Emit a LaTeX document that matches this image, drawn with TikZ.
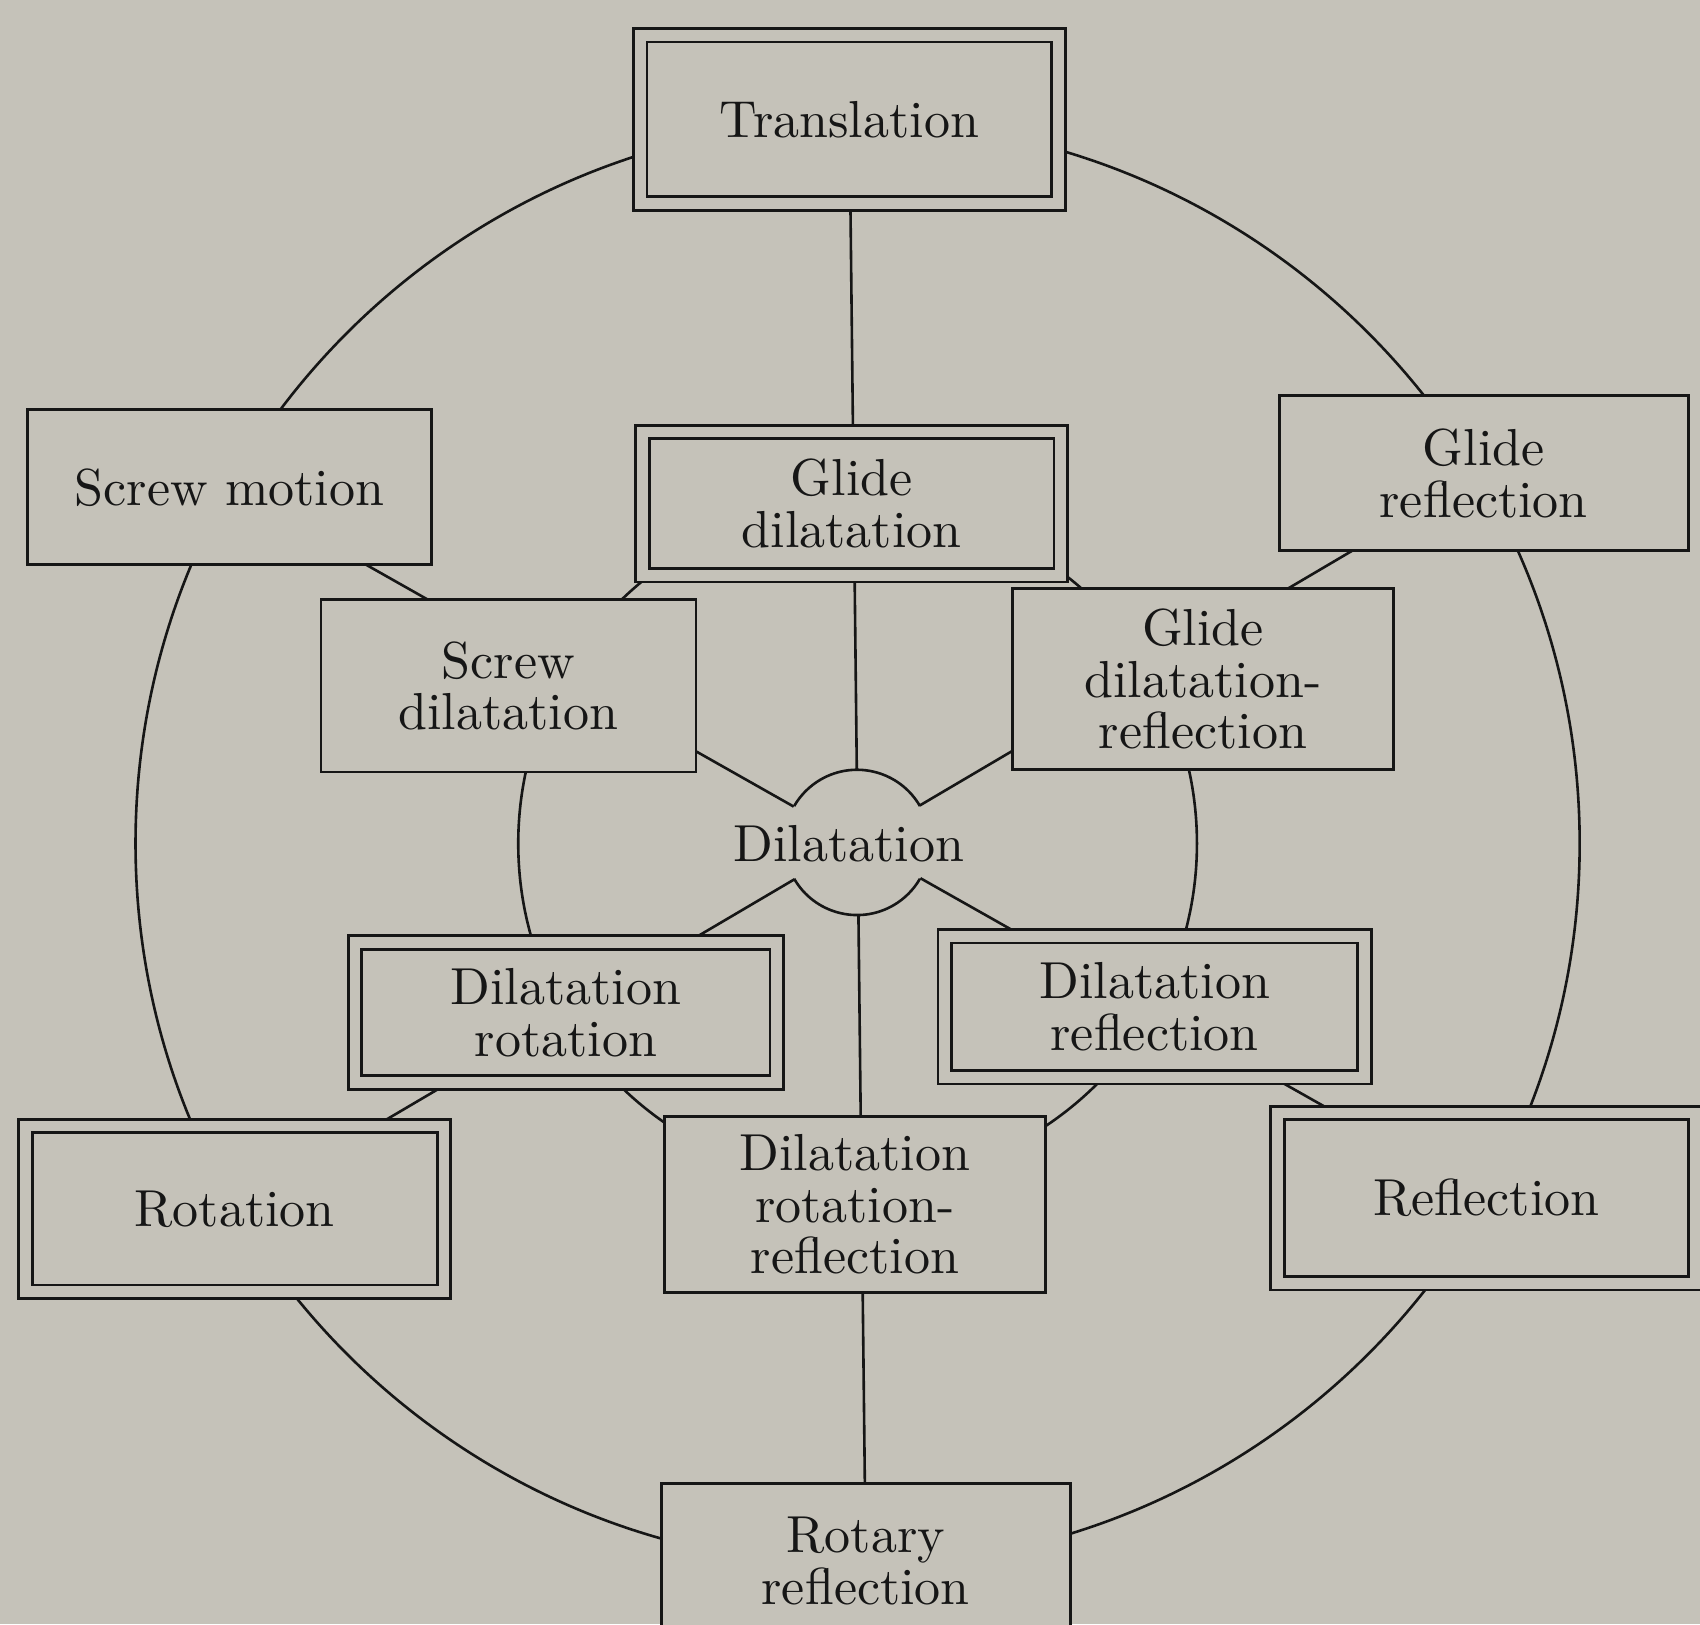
\documentclass[tikz,border=0pt]{standalone}
\usepackage{fontspec}
\setmainfont{lmroman10-regular}[Extension=.otf]
\usetikzlibrary{backgrounds}
\definecolor{paper}{RGB}{197,194,185}
\definecolor{ink}{RGB}{22,22,22}
\begin{document}
\begin{tikzpicture}[x=0.5pt,y=-0.5pt,
  lbl/.style={font=\fontsize{24}{23.75}\selectfont, text=ink, align=center, inner sep=0pt, outer sep=0pt},
  box/.style={lbl, rectangle, draw=ink, line width=1.3pt, fill=paper},
  dbox/.style={box, double=paper, double distance=5pt},
  conn/.style={draw=ink, line width=1.2pt},
]
\useasboundingbox (0,0) rectangle (1568,1498);
\coordinate (c0) at (790.5,777);
\coordinate (cc) at (791,778);

% central small circle with Dilatation
\node[circle, fill=paper, minimum size=67pt, inner sep=0pt, outer sep=0pt] (ring) at (c0) {};
\draw[conn] (ring.30) arc[start angle=30, end angle=150, radius=33.5pt];
\draw[conn] (ring.210) arc[start angle=210, end angle=330, radius=33.5pt];
\node[lbl] (D) at (783,778) {Dilatation};

% boxes
\node[dbox, minimum width=193pt, minimum height=77.5pt] (T) at (783.5,110) {Translation};
\node[dbox, minimum width=193pt, minimum height=66pt] (GD) at (785.5,464.5) {Glide\\dilatation};
\node[dbox, minimum width=194.5pt, minimum height=64.5pt] (DRot) at (522,934) {Dilatation\\rotation};
\node[dbox, minimum width=193.5pt, minimum height=65pt] (DRef) at (1065,928.5) {Dilatation\\reflection};
\node[dbox, minimum width=193pt, minimum height=76.5pt] (Rot) at (216.5,1115) {Rotation};
\node[dbox, minimum width=192.5pt, minimum height=78.5pt] (Ref) at (1371,1105) {Reflection};
\node[box, minimum width=186.5pt, minimum height=71.5pt] (SM) at (211.5,449.5) {Screw motion};
\node[box, minimum width=188.5pt, minimum height=71.5pt] (GR) at (1368.5,436.5) {Glide\\reflection};
\node[box, minimum width=173pt, minimum height=79.5pt] (SD) at (469,632.5) {Screw\\dilatation};
\node[box, minimum width=175.5pt, minimum height=83.5pt] (GDR) at (1109.5,626.5) {Glide\\dilatation-\\reflection};
\node[box, minimum width=175.5pt, minimum height=81pt] (DRR) at (788.5,1111) {Dilatation\\rotation-\\reflection};
\node[box, minimum width=188.5pt, minimum height=72pt] (RR) at (798.5,1440) {Rotary\\reflection};

\begin{scope}[on background layer]
  \fill[paper] (0,0) rectangle (1568,1498);
  \draw[conn] (cc) circle[radius=333pt];
  \draw[conn] (cc) circle[radius=156.5pt];
  \draw[conn] (T.center) -- (RR.center);
  \draw[conn] (ring.center) -- (SM.center);
  \draw[conn] (ring.center) -- (GR.center);
  \draw[conn] (ring.center) -- (Rot.center);
  \draw[conn] (ring.center) -- (Ref.center);
\end{scope}
\end{tikzpicture}
\end{document}
